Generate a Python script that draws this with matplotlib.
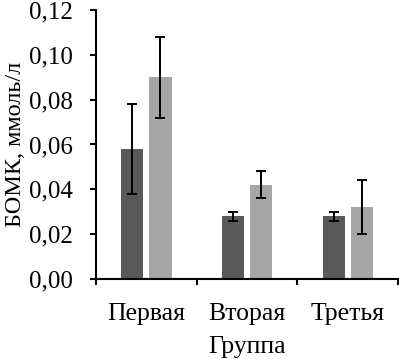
import numpy as np
import matplotlib.pyplot as plt
from matplotlib.ticker import FuncFormatter

# data
groups = ['Первая', 'Вторая', 'Третья']
dark_vals = [0.058, 0.028, 0.028]
dark_err = [0.020, 0.002, 0.002]
light_vals = [0.090, 0.042, 0.032]
light_err = [0.018, 0.006, 0.012]

plt.rcParams['font.family'] = ['Liberation Serif', 'DejaVu Serif']

fig = plt.figure(figsize=(3.99, 3.59), dpi=100)
ax = fig.add_axes([0.2406, 0.2228, 0.7569, 0.7494])

x = np.arange(len(groups))
w = 0.22
ekw = dict(elinewidth=1.4, capthick=1.4, ecolor='black')
ax.bar(x - 0.14, dark_vals, w, color='#595959', yerr=dark_err, capsize=3.5, error_kw=ekw)
ax.bar(x + 0.14, light_vals, w, color='#a6a6a6', yerr=light_err, capsize=3.5, error_kw=ekw)

ax.set_xlim(-0.5, 2.5)
ax.set_ylim(0, 0.12)
ax.set_yticks(np.arange(0, 0.121, 0.02))
ax.yaxis.set_major_formatter(FuncFormatter(lambda v, p: f'{v:.2f}'.replace('.', ',')))

# category boundaries get the tick marks, labels sit between them
ax.set_xticks([-0.5, 0.5, 1.5, 2.5])
ax.set_xticklabels([])
ax.set_xticks(x, minor=True)
ax.set_xticklabels(groups, minor=True)
ax.tick_params(axis='x', which='minor', length=0, pad=17, labelsize=18.5)
ax.tick_params(axis='x', which='major', length=4.3, width=1.5)
ax.tick_params(axis='y', length=4.3, width=1.5, labelsize=18, pad=12.5)

for s in ['top', 'right']:
    ax.spines[s].set_visible(False)
for s in ['left', 'bottom']:
    ax.spines[s].set_linewidth(1.5)

ax.set_ylabel('БОМК, ммоль/л', fontsize=17.5, labelpad=2)
ax.set_xlabel('Группа', fontsize=18.5, labelpad=8)

fig.savefig('out.png', dpi=100)
